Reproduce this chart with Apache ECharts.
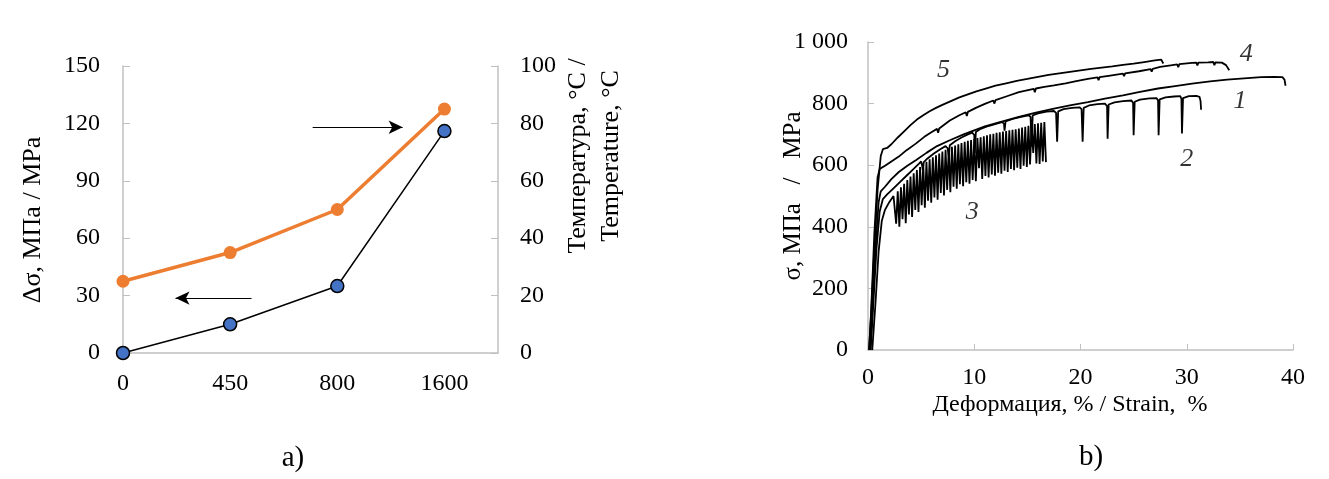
<!DOCTYPE html>
<html><head><meta charset="utf-8">
<script src="https://cdn.jsdelivr.net/npm/echarts/dist/echarts.min.js"></script>
<style>html,body{margin:0;padding:0;background:#fff}#c{width:1329px;height:479px}</style>
</head><body><div id="c"></div>
<script>
// ---------- Panel a) ----------
const temps = ['0', '450', '800', '1600'];
const deltaSigma = [0, 15, 35, 116];          // left axis, MPa
const temperature = [25, 35, 50, 85];         // right axis, °C
const arrowRight = [[1.77, 118], [2.61, 118]];
const arrowLeft = [[1.20, 28.7], [0.49, 28.7]];

// ---------- Panel b) ----------
const yTicksB = ['0', '200', '400', '600', '800', '1 000'];
const curve5 = [[0.1,0],[0.3,120],[0.6,330],[0.9,520],[1.2,630],[1.4,652],[1.8,656],[2.2,668],[2.8,690],[3.4,710],[4.0,730],[4.6,748],[5.2,762],[5.8,775],[6.4,786],[7.0,796],[7.8,808],[8.6,820],[9.4,830],[10.2,840],[11.0,848],[12.0,858],[13.0,866],[14.0,874],[15.0,880],[16.0,887],[17.0,893],[18.0,898],[19.0,903],[20.0,908],[21.0,913],[22.0,917],[23.0,921],[24.0,926],[25.0,930],[26.0,935],[27.0,940],[27.6,943],[27.7,936],[27.8,930]];
const curve4 = [[0.1,0],[0.3,130],[0.6,380],[0.9,560],[1.1,588],[1.6,598],[2.2,612],[2.9,628],[3.6,648],[4.5,670],[5.3,692],[6.0,708],[6.5,718],[6.6,705],[6.7,719],[7.7,745],[8.6,762],[9.2,772],[9.3,760],[9.4,773],[10.2,787],[11.0,799],[11.8,810],[11.9,800],[12.0,811],[13.0,823],[14.2,837],[15.6,848],[15.7,837],[15.8,849],[16.6,854],[17.5,859],[18.6,866],[19.6,873],[20.7,880],[21.6,885],[21.7,876],[21.8,886],[22.8,891],[24.0,897],[24.1,889],[24.2,898],[25.5,905],[26.6,912],[26.7,904],[26.8,913],[27.5,919],[28.5,924],[29.1,927],[29.2,918],[29.3,928],[30.5,932],[30.9,933],[31.0,924],[31.1,933],[32.0,934],[32.5,935],[32.6,925],[32.7,934],[33.3,933],[33.7,925],[34.0,908]];
const curve1 = [[0.2,0],[0.4,120],[0.7,330],[1.0,480],[1.2,515],[1.6,530],[2.2,555],[2.9,578],[3.7,598],[4.5,616],[5.5,640],[6.5,662],[7.7,681],[9.0,700],[10.0,713],[11.0,726],[12.5,741],[14.2,757],[15.8,771],[17.5,784],[19.0,794],[20.7,805],[22.3,816],[24.0,827],[25.6,838],[27.3,849],[28.9,857],[30.5,865],[32.2,872],[33.8,878],[35.4,882],[37.0,886],[38.2,887],[39.0,886],[39.2,878],[39.3,858]];
const curve2 = [[0.25,0],[0.5,150],[0.8,330],[1.1,450],[1.4,490],[1.8,505],[2.4,525],[3.0,545],[3.6,565],[4.2,585],[4.8,605],[5.0,612],[5.1,598],[5.15,585],[5.25,610],[5.6,622],[6.2,638],[6.8,652],[7.3,662],[7.5,655],[7.6,630],[7.7,665],[8.2,678],[8.8,690],[9.4,700],[9.8,706],[10.0,698],[10.05,640],[10.15,708],[10.6,718],[11.4,728],[12.2,736],[12.6,740],[12.8,735],[12.85,712],[12.95,742],[13.6,750],[14.4,757],[15.1,762],[15.3,757],[15.4,660],[15.5,762],[16.0,768],[16.8,774],[17.5,776],[17.7,770],[17.8,676],[17.9,775],[18.4,782],[19.2,786],[19.9,788],[20.1,782],[20.2,676],[20.3,786],[20.8,794],[21.6,798],[22.3,800],[22.5,792],[22.55,686],[22.65,797],[23.2,804],[24.0,808],[24.8,810],[24.95,802],[25.0,697],[25.1,806],[25.6,813],[26.5,817],[27.15,818],[27.3,810],[27.35,697],[27.45,814],[28.0,820],[28.8,823],[29.4,824],[29.5,815],[29.55,703],[29.65,818],[30.2,824],[30.9,825],[31.2,822],[31.3,808],[31.35,780]];
const curve3 = [[0.4,0],[0.7,150],[1.0,320],[1.3,420],[1.6,455],[2.0,480],[2.4,500],
 [2.5,503],[2.65,410],[2.8,515],[2.95,400],[3.1,528],[3.25,425],[3.4,540],[3.55,412],[3.7,552],[3.85,440],
 [4.0,563],[4.15,432],[4.3,574],[4.45,455],[4.6,584],[4.75,448],[4.9,594],[5.05,470],[5.2,603],[5.35,462],
 [5.5,611],[5.65,485],[5.8,619],[5.95,478],[6.1,626],[6.25,495],[6.4,632],[6.55,488],[6.7,638],[6.85,510],
 [7.0,644],[7.15,502],[7.3,650],[7.45,520],[7.6,655],[7.75,512],[7.9,660],[8.05,530],[8.2,664],[8.35,524],
 [8.5,668],[8.65,538],[8.8,672],[8.95,532],[9.1,676],[9.25,545],[9.4,679],[9.55,540],[9.7,682],[9.85,552],
 [10.0,685],[10.15,548],[10.3,688],[10.45,590],[10.6,691],[10.75,555],[10.9,694],[11.05,565],[11.2,697],[11.35,560],
 [11.5,700],[11.65,570],[11.8,702],[11.95,566],[12.1,705],[12.25,576],[12.4,707],[12.55,572],[12.7,709],[12.85,582],
 [13.0,711],[13.15,578],[13.3,713],[13.45,588],[13.6,715],[13.75,584],[13.9,717],[14.05,592],[14.2,719],[14.35,588],
 [14.5,722],[14.65,598],[14.8,725],[14.95,594],[15.1,728],[15.25,602],[15.4,731],[15.55,640],[15.7,734],[15.85,606],
 [16.0,736],[16.15,604],[16.3,738],[16.45,612],[16.6,740],[16.75,610]];
const curveLabels = [[7.1, 910, '5'], [35.6, 960, '4'], [35.0, 808, '1'], [30.0, 620, '2'], [9.8, 446, '3']];

const FONT = "'Liberation Serif', 'Times New Roman', serif";
const AXC = '#c0c0c0';

const chart = echarts.init(document.getElementById('c'), null, {renderer: 'canvas'});
const lineB = (data) => ({
  type: 'line', xAxisIndex: 1, yAxisIndex: 2, data: data, showSymbol: false, symbol: 'none',
  lineStyle: {color: '#000', width: 1.8}, silent: true
});

chart.setOption({
  animation: false,
  textStyle: {fontFamily: FONT, color: '#000'},
  grid: [
    {left: 123, top: 66, width: 375, height: 287},
    {left: 868, top: 42, width: 425, height: 308}
  ],
  xAxis: [
    {gridIndex: 0, type: 'value', min: 0, max: 3.5, interval: 1,
     axisLine: {lineStyle: {color: AXC, width: 1.5}}, axisTick: {show: false}, splitLine: {show: false},
     axisLabel: {fontFamily: FONT, fontSize: 24, color: '#000', margin: 19,
       formatter: v => (Number.isInteger(v) && temps[v] !== undefined) ? temps[v] : ''}},
    {gridIndex: 1, type: 'value', min: 0, max: 40, interval: 10,
     axisLine: {lineStyle: {color: AXC, width: 1.5}}, axisTick: {inside: true, length: 6, lineStyle: {color: AXC}},
     splitLine: {show: false},
     axisLabel: {fontFamily: FONT, fontSize: 24, color: '#000', margin: 16}}
  ],
  yAxis: [
    {gridIndex: 0, type: 'value', min: 0, max: 150, interval: 30, position: 'left',
     axisLine: {show: true, lineStyle: {color: AXC, width: 1.5}},
     axisTick: {show: true, inside: true, length: 7, lineStyle: {color: AXC}}, splitLine: {show: false},
     axisLabel: {fontFamily: FONT, fontSize: 24, color: '#000', margin: 23}},
    {gridIndex: 0, type: 'value', min: 0, max: 100, interval: 20, position: 'right',
     axisLine: {show: true, lineStyle: {color: AXC, width: 1.5}},
     axisTick: {show: true, inside: true, length: 7, lineStyle: {color: AXC}}, splitLine: {show: false},
     axisLabel: {fontFamily: FONT, fontSize: 24, color: '#000', margin: 22}},
    {gridIndex: 1, type: 'value', min: 0, max: 1000, interval: 200,
     axisLine: {show: true, lineStyle: {color: AXC, width: 1.5}},
     axisTick: {show: true, inside: true, length: 6, lineStyle: {color: AXC}}, splitLine: {show: false},
     axisLabel: {fontFamily: FONT, fontSize: 24, color: '#000', margin: 20,
       formatter: v => yTicksB[Math.round(v / 200)]}}
  ],
  series: [
    {type: 'line', xAxisIndex: 0, yAxisIndex: 1, data: temperature.map((t, i) => [i, t]),
     symbol: 'circle', symbolSize: 13, lineStyle: {color: '#ED7D31', width: 3.5},
     itemStyle: {color: '#ED7D31'}},
    {type: 'line', xAxisIndex: 0, yAxisIndex: 0, data: deltaSigma.map((d, i) => [i, d]),
     symbol: 'circle', symbolSize: 13, lineStyle: {color: '#000', width: 1.5},
     itemStyle: {color: '#4472C4', borderColor: '#000', borderWidth: 1.5},
     markLine: {silent: true, symbol: ['none', 'arrow'], symbolSize: [10, 14],
       lineStyle: {color: '#000', width: 1, type: 'solid'}, label: {show: false},
       data: [[{coord: arrowRight[0]}, {coord: arrowRight[1]}], [{coord: arrowLeft[0]}, {coord: arrowLeft[1]}]]}},
    lineB(curve5), lineB(curve4), lineB(curve1), lineB(curve2), lineB(curve3),
    {type: 'scatter', xAxisIndex: 1, yAxisIndex: 2, data: curveLabels, symbolSize: 0, silent: true,
     label: {show: true, position: 'inside', formatter: p => p.data[2],
       fontFamily: FONT, fontStyle: 'italic', fontSize: 26, color: '#000'}}
  ],
  graphic: [
    {type: 'text', x: 33, y: 220, rotation: Math.PI / 2,
     style: {text: 'Δσ, МПа / MPa', font: "26px " + FONT, fill: '#000', align: 'center', verticalAlign: 'middle'}},
    {type: 'text', x: 595, y: 156, rotation: Math.PI / 2,
     style: {text: 'Температура, °C /\nTemperature, °C', font: "26px " + FONT, fill: '#000',
       align: 'center', verticalAlign: 'middle', lineHeight: 33}},
    {type: 'text', x: 793, y: 196, rotation: Math.PI / 2,
     style: {text: 'σ, МПа   /   МРа', font: "25px " + FONT, fill: '#000', align: 'center', verticalAlign: 'middle'}},
    {type: 'text', x: 1070, y: 405,
     style: {text: 'Деформация, % / Strain,  %', font: "24px " + FONT, fill: '#000', align: 'center', verticalAlign: 'middle'}},
    {type: 'text', x: 293, y: 458,
     style: {text: 'a)', font: "29px " + FONT, fill: '#000', align: 'center', verticalAlign: 'middle'}},
    {type: 'text', x: 1091, y: 457,
     style: {text: 'b)', font: "29px " + FONT, fill: '#000', align: 'center', verticalAlign: 'middle'}}
  ]
});
</script></body></html>
